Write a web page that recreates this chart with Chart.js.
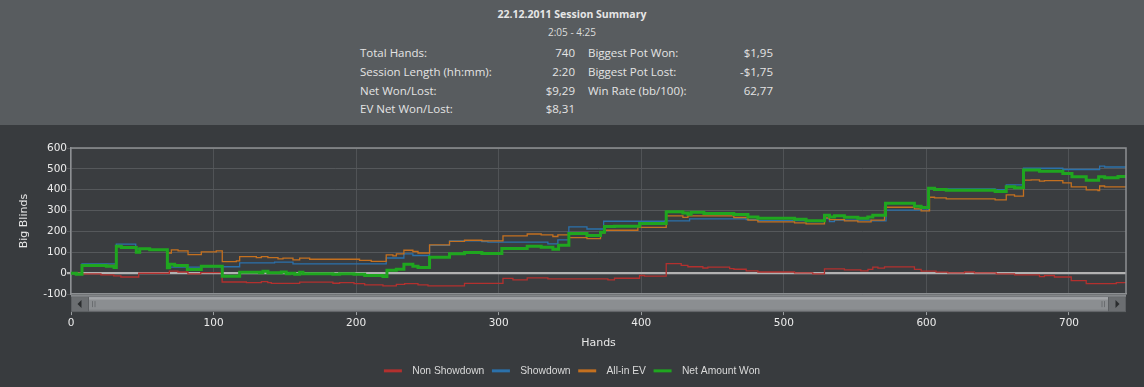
<!DOCTYPE html>
<html>
<head>
<meta charset="utf-8">
<script src="https://cdn.jsdelivr.net/npm/chart.js@4.4.0/dist/chart.umd.min.js"></script>
<style>
html,body{margin:0;padding:0;background:#383b3e;}
#wrap{position:relative;width:1144px;height:387px;overflow:hidden;background:#383b3e;}
#hdr{position:absolute;left:0;top:0;width:1144px;height:125px;background:#585c5f;font-family:"Open Sans",sans-serif;color:#e4e4e4;}
#hdr div{position:absolute;line-height:16px;white-space:nowrap;}
#c{position:absolute;left:0;top:125px;}
</style>
</head>
<body>
<div id="wrap">
  <div id="hdr"></div>
  <canvas id="c" width="1144" height="262"></canvas>
</div>
<script>
// ---------- header data ----------
const summaryTitle = '22.12.2011 Session Summary';
const summaryTime = '2:05 - 4:25';
const leftStatLabels = ['Total Hands:', 'Session Length (hh:mm):', 'Net Won/Lost:', 'EV Net Won/Lost:'];
const leftStatValues = ['740', '2:20', '$9,29', '$8,31'];
const rightStatLabels = ['Biggest Pot Won:', 'Biggest Pot Lost:', 'Win Rate (bb/100):'];
const rightStatValues = ['$1,95', '-$1,75', '62,77'];

// ---------- series data (hand number where value changes, big blinds) ----------
const seriesNames = ['Non Showdown', 'Showdown', 'All-in EV', 'Net Amount Won'];
const seriesColors = ['#b3302e', '#2b71ab', '#c4701f', '#1fa61f'];

const nonShowdownHands = [0,8,21,30,35,47.5,69,75,82,91,106,123,133.5,138,140.5,160.4,183.7,188.4,198.5,206,218.8,228.2,234,243.4,250.4,276,303,310,320,334.5,376.6,381.2,398.8,402.3,417.5,428,432.7,443.2,446.7,462,465,473.6,481.8,507.5,520.3,528.5,542.5,554,559,562.4,566,570.6,591.6,596.3,606.8,615,626.7,633.7,649,661.8,679.3,682.8,689.8,701.6,712.1,733.2,740];
const nonShowdownBB = [0,-3,-8,-13,-18,0,10,6,-3,3,-42,-45,-40,-45,-49,-43,-48,-45,-50,-56,-61,-53,-50,-56,-61,-49,-25,-32,-22,-27,-32,-24,-11,-14,46,38,31,25,29,22,19,11,6,2,-3,21,16,11,18,29,24,30,18,10,5,2,6,2,-3,-8,-16,-11,-18,-35,-50,-45,-45];

const showdownHands = [0,7.7,31.8,45.4,55.2,67.6,91.4,118.3,142.8,155.7,221.1,233.5,239.8,251.5,265.5,288.2,292.4,334.5,341.5,349.2,361.9,373.6,416.3,433.9,473.6,481.8,515.6,528.5,532,535.5,561.2,571.7,601.5,648.2,656,668.1,695.7,721.5,725,740];
const showdownBB = [0,45,139,117,113,29,31,50,53,45,73,93,85,133,155,152,149,141,160,222,212,249,251,260,257,252,247,262,247,254,251,302,404,401,423,503,497,513,509,509];

const allInEvHands = [0,7.7,31.8,35.3,45.8,48.2,55.2,67.6,70.4,75.1,82.1,91.4,101.9,106.1,116,118.3,130,133.5,138.1,145.2,148.7,155.7,160.4,167.4,202.4,210.6,221.1,225.8,228.2,233.5,239.8,243.4,251.5,265.5,276,288.2,303,320,329.8,338,341.5,349.2,361.9,371.4,374.2,397.6,417.5,429.2,432.7,464.9,474.8,481.8,507.5,515.6,528.5,532,542.5,551.9,561.2,570.6,591.6,596.3,602.2,605.7,613.9,648.2,656,661.8,668.1,673.5,679.3,682.8,695.7,701.6,712.1,720.3,721.5,725,740];
const allInEvBB = [0,37,129,123,101,117,113,97,112,107,89,102,107,56,59,80,75,80,75,69,72,64,72,67,62,57,88,83,93,110,104,97,136,153,158,155,179,188,184,176,184,171,166,193,206,220,275,268,275,267,254,246,241,236,265,257,251,246,254,316,308,299,364,361,356,351,375,369,446,447,441,444,433,414,399,396,418,414,414];

const netWonHands = [0,3.7,7.7,24.8,30.2,31.8,35.3,45.8,48.2,55.2,67.6,69.2,72.7,81.6,91.4,106.1,118.3,132.3,134.6,138.1,147.5,151,153.5,156.9,160.4,162.7,183.7,188.4,198.5,206,218.8,221.6,228.2,233.5,239.8,243.4,251.5,265.5,276,288.2,302.2,320,329.8,338,342,349.2,361.9,371.4,374.2,381.2,398.8,417.5,429.2,432.7,435,443.9,464.9,474.8,481.8,507.5,515.6,528.5,532,535.5,542.5,551.9,558.9,562.4,571.3,591.6,596.3,601.5,605.7,613.9,648.2,656,661.8,668.1,679.3,695.7,702.1,712.1,720.8,725,734.4,740];
const netWonBB = [0,-5,37,34,27,129,123,101,117,113,26,43,37,18,34,-14,5,2,10,2,6,-3,0,-5,5,-2,-5,-2,-5,-11,-16,14,19,43,34,27,76,93,99,94,118,129,125,115,134,190,181,196,224,225,238,295,288,283,292,286,281,270,264,259,252,278,270,275,268,264,270,278,335,321,315,407,401,398,391,414,409,494,489,478,462,446,462,458,463,463];

// ---------- axis ticks ----------
const handTicks = [0, 100, 200, 300, 400, 500, 600, 700];
const bbTicks = [-100, 0, 100, 200, 300, 400, 500, 600];

// ---------- header ----------
(function buildHeader(){
  const hdr = document.getElementById('hdr');
  function add(text, css){
    const d = document.createElement('div');
    d.textContent = text;
    Object.assign(d.style, css);
    hdr.appendChild(d);
  }
  add(summaryTitle, {left:'0px', width:'1144px', textAlign:'center', top:'6px', fontSize:'10.5px', fontWeight:'bold', color:'#e6e6e6'});
  add(summaryTime, {left:'0px', width:'1144px', textAlign:'center', top:'24px', fontSize:'10px', color:'#dcdcdc'});
  const rowTops = [45, 63.5, 82.5, 101];
  leftStatLabels.forEach((t,i)=>{
    add(t, {left:'360px', top:rowTops[i]+'px', fontSize:'11.5px'});
    add(leftStatValues[i], {right:(1144-575)+'px', top:rowTops[i]+'px', fontSize:'11.5px', textAlign:'right'});
  });
  rightStatLabels.forEach((t,i)=>{
    add(t, {left:'588px', top:rowTops[i]+'px', fontSize:'11.5px'});
    add(rightStatValues[i], {right:(1144-773)+'px', top:rowTops[i]+'px', fontSize:'11.5px', textAlign:'right'});
  });
})();

// ---------- chart ----------
const toPts = (hs, vs) => hs.map((h, i) => ({x: h, y: vs[i]}));
const seriesHands = [nonShowdownHands, showdownHands, allInEvHands, netWonHands];
const seriesValues = [nonShowdownBB, showdownBB, allInEvBB, netWonBB];
const seriesWidths = [1.3, 1.3, 1.3, 3];
const seriesOrder = [3, 2, 1, 0];

const datasets = seriesNames.map((name, i) => ({
  label: name,
  data: toPts(seriesHands[i], seriesValues[i]),
  borderColor: seriesColors[i],
  backgroundColor: seriesColors[i],
  borderWidth: seriesWidths[i],
  stepped: true,
  pointRadius: 0,
  pointHoverRadius: 0,
  fill: false,
  order: seriesOrder[i]
}));

const decor = {
  id: 'decor',
  beforeDraw(chart){
    const {ctx, chartArea: a} = chart;
    ctx.save();
    ctx.fillStyle = '#3a3d40';
    ctx.fillRect(a.left, a.top, a.right - a.left, a.bottom - a.top);
    ctx.restore();
  },
  afterDraw(chart){
    const {ctx, chartArea: a} = chart;
    const L = a.left, R = a.right, b = a.bottom;
    ctx.save();
    // frame top/right
    ctx.strokeStyle = '#8d9093';
    ctx.lineWidth = 1.5;
    ctx.beginPath();
    ctx.moveTo(L, a.top); ctx.lineTo(R, a.top); ctx.lineTo(R, b);
    ctx.stroke();
    // scrollbar
    ctx.fillStyle = '#5c5f62';
    ctx.fillRect(L, b + 1, R - L, 17);
    ctx.fillStyle = '#8a8d90';
    ctx.fillRect(L, b + 1, R - L, 1.5);
    // buttons
    ctx.fillStyle = '#6b6e71';
    ctx.fillRect(L + 1, b + 3, 16, 14);
    ctx.fillRect(R - 17, b + 3, 16, 14);
    ctx.fillStyle = '#2a2c2e';
    let cy = b + 10;
    ctx.beginPath(); ctx.moveTo(L + 6.5, cy); ctx.lineTo(L + 10.5, cy - 4); ctx.lineTo(L + 10.5, cy + 4); ctx.closePath(); ctx.fill();
    ctx.beginPath(); ctx.moveTo(R - 6.5, cy); ctx.lineTo(R - 10.5, cy - 4); ctx.lineTo(R - 10.5, cy + 4); ctx.closePath(); ctx.fill();
    // thumb
    ctx.fillStyle = '#8b8e91';
    ctx.fillRect(L + 18, b + 3, R - L - 36, 14);
    ctx.fillStyle = '#a2a5a8';
    ctx.fillRect(L + 18, b + 3, R - L - 36, 2.5);
    ctx.fillStyle = '#7d8083';
    ctx.fillRect(L + 18, b + 15.5, R - L - 36, 1.5);
    // grips
    ctx.fillStyle = '#6a6d70';
    [L + 21, L + 23.5, R - 24.5, R - 22].forEach(x => ctx.fillRect(x, b + 7, 1, 6));
    ctx.restore();
  }
};

const tickFont = {family: 'DejaVu Sans', size: 10.5};
const titleFont = {family: 'DejaVu Sans', size: 11};

new Chart(document.getElementById('c'), {
  type: 'line',
  data: {datasets},
  plugins: [decor],
  options: {
    responsive: false,
    animation: false,
    devicePixelRatio: 1,
    layout: {padding: {top: 23, right: 0, bottom: 1, left: 0}},
    interaction: {mode: 'nearest', intersect: false},
    plugins: {
      tooltip: {enabled: false},
      legend: {
        position: 'bottom',
        labels: {
          color: '#dadada',
          font: {family: 'Liberation Sans', size: 10.3},
          boxWidth: 18,
          boxHeight: 3,
          padding: 7.6,
          sort: (a, b) => a.datasetIndex - b.datasetIndex,
          generateLabels(chart) {
            return Chart.defaults.plugins.legend.labels.generateLabels(chart).map(it => {
              it.fillStyle = it.strokeStyle;
              it.lineWidth = 0;
              it.text = '\u2002' + it.text;
              return it;
            });
          }
        }
      }
    },
    scales: {
      x: {
        type: 'linear',
        min: 0,
        max: 740,
        afterBuildTicks(scale){ scale.ticks = handTicks.map(v => ({value: v})); },
        afterFit(scale){ scale.height = 64; },
        ticks: {color: '#ececec', font: tickFont, padding: 2, maxRotation: 0},
        grid: {color: '#505356', lineWidth: 1, drawTicks: true, tickLength: 21, tickColor: '#9a9da0'},
        border: {display: true, color: '#8d9093', width: 1.5},
        title: {display: true, text: 'Hands', color: '#e8e8e8', font: titleFont, padding: {top: 0, bottom: 8.4}}
      },
      y: {
        type: 'linear',
        min: -100,
        max: 600,
        afterBuildTicks(scale){ scale.ticks = bbTicks.map(v => ({value: v})); },
        afterFit(scale){ scale.width = 71; },
        ticks: {color: '#ececec', font: tickFont, padding: 0},
        grid: {
          color: c => (c.tick && c.tick.value === 0) ? '#b2b2b2' : '#55585b',
          lineWidth: c => (c.tick && c.tick.value === 0) ? 2.2 : 1,
          drawTicks: true,
          tickLength: 4
        },
        border: {display: true, color: '#8d9093', width: 1.5},
        title: {display: true, text: 'Big Blinds', color: '#e8e8e8', font: titleFont, padding: {top: 17.4, bottom: 0}}
      },
      yRight: {
        type: 'linear',
        position: 'right',
        display: true,
        min: -100,
        max: 600,
        ticks: {display: false},
        grid: {display: false, drawTicks: false},
        border: {display: false},
        afterFit(scale){ scale.width = 18; }
      }
    }
  }
});
</script>
</body>
</html>
